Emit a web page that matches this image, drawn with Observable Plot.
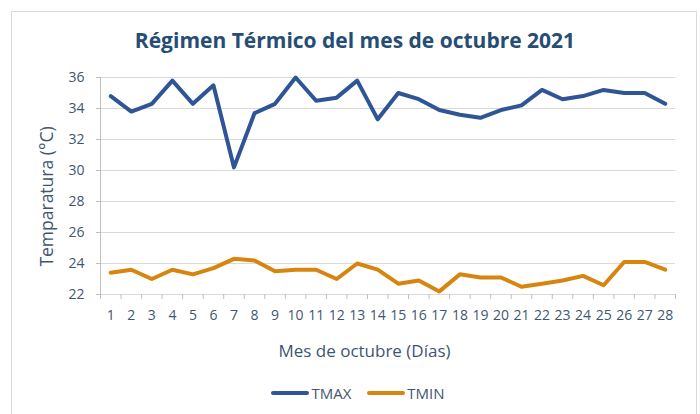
<!DOCTYPE html>
<html>
<head>
<meta charset="utf-8">
<script src="https://cdn.jsdelivr.net/npm/d3@7"></script>
<script src="https://cdn.jsdelivr.net/npm/@observablehq/plot@0.6"></script>
<style>
  html, body { margin: 0; padding: 0; background: #fff; }
  body { width: 700px; height: 414px; position: relative; overflow: hidden; font-family: "Open Sans", sans-serif; }
  #frame { position: absolute; left: 11px; top: 11px; width: 684px; height: 410px; border: 1px solid #d9d9d9; }
  #title { position: absolute; left: 0; top: 26px; width: 710px; text-align: center; font-size: 21px; font-weight: 700; color: #264d73; }
  #chart { position: absolute; left: 0; top: 60px; }
  #legend { position: absolute; left: 0; top: 383px; width: 716px; display: flex; justify-content: center; align-items: center; font-size: 15px; color: #3f5671; }
  .item { display: flex; align-items: center; margin: 0 8px; }
  .sw { width: 38px; height: 4px; border-radius: 2px; margin-right: 2px; }
</style>
</head>
<body>
<div id="frame"></div>
<div id="title">Régimen Térmico del mes de octubre 2021</div>
<div id="chart"></div>
<div id="legend"></div>
<script>
const days = d3.range(1, 29);
const tmax = [34.8, 33.8, 34.3, 35.8, 34.3, 35.5, 30.2, 33.7, 34.3, 36.0, 34.5, 34.7, 35.8, 33.3,
              35.0, 34.6, 33.9, 33.6, 33.4, 33.9, 34.2, 35.2, 34.6, 34.8, 35.2, 35.0, 35.0, 34.3];
const tmin = [23.4, 23.6, 23.0, 23.6, 23.3, 23.7, 24.3, 24.2, 23.5, 23.6, 23.6, 23.0, 24.0, 23.6,
              22.7, 22.9, 22.2, 23.3, 23.1, 23.1, 22.5, 22.7, 22.9, 23.2, 22.6, 24.1, 24.1, 23.6];
const yTicks = [22, 24, 26, 28, 30, 32, 34, 36];
const seriesNames = ["TMAX", "TMIN"];
const seriesColors = ["#2f5597", "#d7850f"];
const yLabel = "Temparatura (°C)";
const xLabel = "Mes de octubre (Días)";

const rows = [];
days.forEach((d, i) => {
  rows.push({day: d, value: tmax[i], series: seriesNames[0]});
  rows.push({day: d, value: tmin[i], series: seriesNames[1]});
});
const edges = days.map(d => d - 0.5).concat([days[days.length - 1] + 0.5]);
const textColor = "#3f5671";

const plot = Plot.plot({
  width: 700,
  height: 310,
  marginLeft: 100,
  marginRight: 25,
  marginTop: 17,
  marginBottom: 76,
  style: {fontFamily: "Open Sans, sans-serif", fontSize: "14px", color: textColor, background: "transparent"},
  x: {type: "linear", domain: [edges[0], edges[edges.length - 1]], axis: null},
  y: {domain: [22, 36], axis: null},
  color: {domain: seriesNames, range: seriesColors},
  marks: [
    Plot.gridY(yTicks, {stroke: "#d9d9d9", strokeOpacity: 1, strokeWidth: 1}),
    Plot.axisY(yTicks, {tickSize: 4, tickPadding: 12, stroke: "#bfbfbf", fill: textColor, fontSize: 14, label: null}),
    Plot.axisX(days, {tickSize: 0, tickPadding: 16, fill: textColor, fontSize: 14, label: null}),
    Plot.axisX(edges, {tickSize: 5, stroke: "#bfbfbf", tickFormat: () => "", label: null}),
    Plot.ruleX([edges[0]], {stroke: "#bfbfbf"}),
    Plot.line(rows, {x: "day", y: "value", z: "series", stroke: "series", strokeWidth: 4, strokeLinejoin: "round", strokeLinecap: "round"}),
    Plot.text([yLabel], {text: d => d, frameAnchor: "left", textAnchor: "middle", dx: -53, dy: 10.5, rotate: -90, fill: textColor, fontSize: 17.5}),
    Plot.text([xLabel], {text: d => d, frameAnchor: "bottom", dx: -23.5, dy: 62, fill: textColor, fontSize: 17})
  ]
});
document.getElementById("chart").appendChild(plot);

const legend = document.getElementById("legend");
seriesNames.forEach((n, i) => {
  const it = document.createElement("div");
  it.className = "item";
  const sw = document.createElement("div");
  sw.className = "sw";
  sw.style.background = seriesColors[i];
  const t = document.createElement("span");
  t.textContent = n;
  it.appendChild(sw);
  it.appendChild(t);
  legend.appendChild(it);
});
</script>
</body>
</html>
